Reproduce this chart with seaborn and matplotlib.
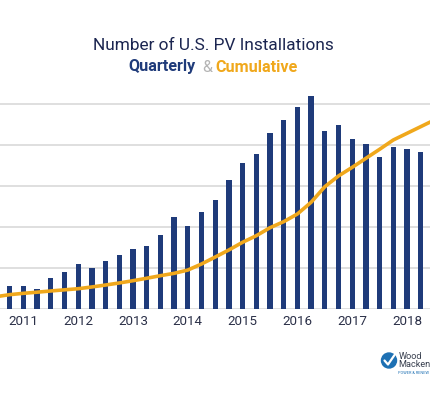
import matplotlib
matplotlib.use("Agg")
import matplotlib.pyplot as plt
from matplotlib.patches import Circle
import numpy as np
import seaborn as sns

# quarterly installs (bars) and cumulative installs (line)
quarter_idx = list(range(31))
quarterly = [11200, 11200, 9600, 15200, 18000, 22000, 19800, 23600, 26400, 29200,
             30800, 36000, 45000, 40400, 47400, 53200, 63000, 71200, 75800, 86000,
             92200, 98600, 104000, 87000, 90000, 82800, 80600, 74000, 78800, 78000,
             76600]
cum_idx = list(range(-1, 32))
cumulative = [120000, 140000, 153000, 164000, 176000, 187000, 198000, 215000, 234000,
              254000, 276000, 300000, 325000, 348000, 380000, 439000, 507000, 576000,
              651000, 715000, 793000, 852000, 927000, 1041000, 1193000, 1298000,
              1382000, 1470000, 1558000, 1649000, 1714000, 1779000, 1844000]
year_pos = [1, 5, 9, 13, 17, 21, 25, 29]
year_labels = ["2011", "2012", "2013", "2014", "2015", "2016", "2017", "2018"]

navy = "#1f3b7a"
gold = "#f0a81c"

sns.set_style("white")
plt.rcParams["font.family"] = ["Roboto", "DejaVu Sans"]

fig = plt.figure(figsize=(4.3, 4.0), dpi=100)
ax = fig.add_axes([0, 0.2275, 1, 0.5381])

sns.barplot(x=quarter_idx, y=quarterly, native_scale=True, width=0.39,
            color=navy, saturation=1, linewidth=0, ax=ax, zorder=3)
ax.set_xlim(-0.708, 30.68)
ax.set_ylim(0, 105000)
ax.set_yticks(np.arange(0, 100001, 20000))
ax.set_yticklabels([])
ax.yaxis.grid(True, color="#dcdcdc", linewidth=1.3, zorder=0)
ax.set_axisbelow(True)
ax.set_xticks(year_pos)
ax.set_xticklabels(year_labels)
ax.tick_params(axis="x", length=0, pad=4.5, labelsize=9.6, labelcolor="#2b3048")
ax.tick_params(axis="y", length=0)
for s in ax.spines.values():
    s.set_visible(False)

ax2 = ax.twinx()
sns.lineplot(x=cum_idx, y=cumulative, color=gold, linewidth=2.6, ax=ax2)
ax2.set_ylim(0, 2100000)
ax2.set_yticks([])
ax2.set_xlim(-0.708, 30.68)
for s in ax2.spines.values():
    s.set_visible(False)
ax.set_xlabel("")
ax.set_ylabel("")
ax2.set_ylabel("")

# titles
fig.text(0.497, 1 - 45 / 400, "Number of U.S. PV Installations", ha="center",
         va="center", fontsize=12.4, color="#1b2550")
fig.text(128 / 430, 1 - 67 / 400, "Quarterly", ha="left", va="center",
         fontsize=11.6, fontweight="bold", color=navy)
fig.text(202 / 430, 1 - 67 / 400, "&", ha="left", va="center",
         fontsize=11.6, color="#b5b5b5")
fig.text(215 / 430, 1 - 67 / 400, "Cumulative", ha="left", va="center",
         fontsize=11.6, fontweight="bold", color=gold)

# logo (cropped at the right edge, as in the picture)
logo = fig.add_axes([0, 0, 1, 1], facecolor="none")
logo.set_xlim(0, 430)
logo.set_ylim(400, 0)
logo.axis("off")
logo.add_patch(Circle((389, 360.5), 7.5, color="#1d70b3"))
logo.plot([384.5, 388, 394.5], [360.5, 364.5, 355], color="white", linewidth=1.6)
logo.text(398.5, 360.5, "Wood\nMacken", fontsize=6.6, color="#3a4150",
          va="center", linespacing=0.95)
logo.text(398.5, 373, "POWER & RENEW", fontsize=2.8, color="#1d70b3", va="center")

fig.savefig("out.png", dpi=100)
